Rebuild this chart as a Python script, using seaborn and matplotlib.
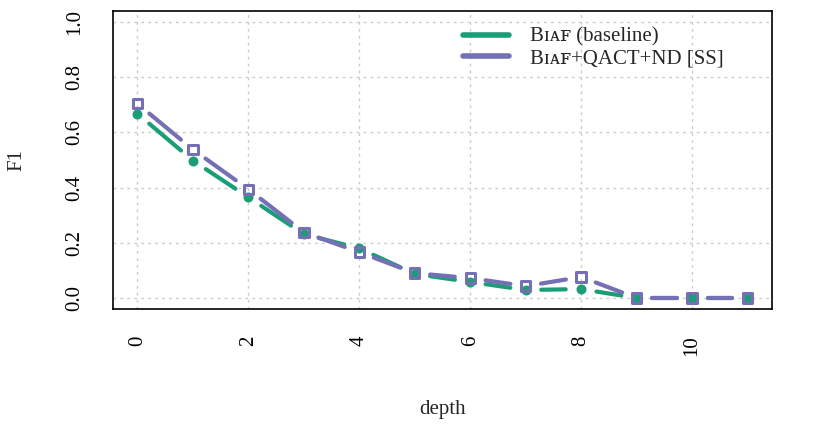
import matplotlib
matplotlib.use("Agg")
import numpy as np
import pandas as pd
import seaborn as sns
from matplotlib import pyplot as plt
from matplotlib.lines import Line2D

# data
depth = list(range(12))
f1_baseline = [0.668, 0.498, 0.365, 0.231, 0.180, 0.087, 0.058, 0.029, 0.032, 0.0, 0.0, 0.0]
f1_qact = [0.704, 0.538, 0.394, 0.238, 0.166, 0.090, 0.072, 0.043, 0.076, 0.0, 0.0, 0.0]
labels = ["B\u026a\u1d00\ua730 (baseline)", "B\u026a\u1d00\ua730+QACT+ND [SS]"]
colors = ["#1b9e77", "#7570b3"]

sns.set_style("white")
plt.rcParams['font.family'] = ['Liberation Serif', 'DejaVu Serif', 'DejaVu Sans']
plt.rcParams['font.size'] = 15

df = pd.DataFrame({"depth": depth, "baseline": f1_baseline, "qact": f1_qact})

fig, ax = plt.subplots(figsize=(8.3, 4.32), dpi=100)
fig.subplots_adjust(left=113 / 830, right=772 / 830, top=1 - 11 / 432, bottom=1 - 309 / 432)
ax.set_xlim(-0.44, 11.44)
ax.set_ylim(-0.04, 1.04)

# grid
ax.set_xticks([0, 2, 4, 6, 8, 10])
ax.set_yticks([0.0, 0.2, 0.4, 0.6, 0.8, 1.0])
ax.grid(True, color='#cccccc', linestyle=(0, (2, 3)), linewidth=1)
ax.set_axisbelow(True)


# R style type="b": line segments with a gap around each point
def gapped_line(x, y, color, gap=15.5):
    pts = ax.transData.transform(np.column_stack([x, y]))
    inv = ax.transData.inverted()
    for p0, p1 in zip(pts[:-1], pts[1:]):
        d = p1 - p0
        n = np.hypot(*d)
        if n <= 2 * gap:
            continue
        u = d / n
        a = inv.transform(p0 + u * gap)
        b = inv.transform(p1 - u * gap)
        ax.plot([a[0], b[0]], [a[1], b[1]], color=color, lw=3.0, solid_capstyle='round', zorder=3)


gapped_line(df["depth"], df["baseline"], colors[0])
sns.scatterplot(data=df, x="depth", y="baseline", ax=ax, marker='o', s=52,
                color=colors[0], edgecolor=colors[0], linewidth=0, zorder=4)
gapped_line(df["depth"], df["qact"], colors[1])
sns.scatterplot(data=df, x="depth", y="qact", ax=ax, marker='s', s=46,
                color=colors[1], facecolor='none', edgecolor=colors[1], linewidth=2.2, zorder=5)
ax.collections[-1].set_joinstyle('round')

ax.set_xlim(-0.44, 11.44)
ax.set_ylim(-0.04, 1.04)

# axes styling
for s in ax.spines.values():
    s.set_visible(True)
    s.set_color('black')
    s.set_linewidth(1.2)
ax.tick_params(axis='both', direction='out', length=10, width=1.2, colors='black', labelsize=15)
ax.tick_params(axis='x', pad=9, labelrotation=90)
ax.tick_params(axis='y', pad=11)
ax.set_yticklabels(["0.0", "0.2", "0.4", "0.6", "0.8", "1.0"], rotation=90, va='center')

ax.set_xlabel("depth", fontsize=15)
ax.set_ylabel("F1", fontsize=15)
ax.xaxis.set_label_coords(0.5, -(400 - 309) / 298)
ax.yaxis.set_label_coords(-(113 - 26) / 659, 0.5)

handles = [Line2D([], [], color=c, lw=4, solid_capstyle='round') for c in colors]
ax.legend(handles, labels, loc='upper left', bbox_to_anchor=(455 / 830, 1 - 19 / 432),
          bbox_transform=fig.transFigure, frameon=False, fontsize=15,
          handlelength=2.2, handletextpad=1.0, labelspacing=0.1, borderaxespad=0)

fig.savefig("out.png", dpi=100)
